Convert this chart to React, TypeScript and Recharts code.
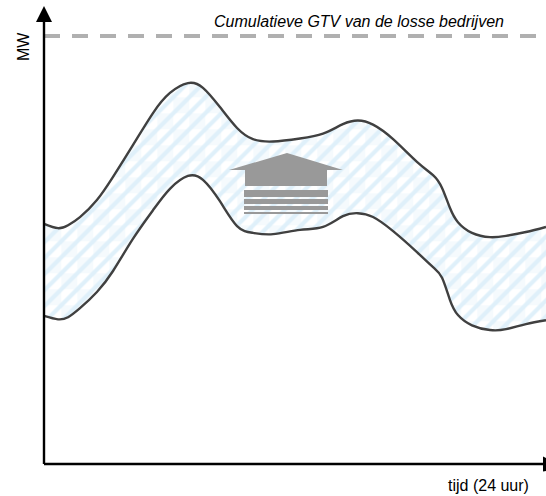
import { Area, ComposedChart, ReferenceLine, XAxis, YAxis } from "recharts";

// uren op de x-as, MW als percentage van de cumulatieve GTV
const HOURS = [0, 0.67, 1.15, 1.72, 2.53, 3.3, 4.25, 5.21, 6.02, 6.88, 7.6, 8.41, 9.23, 9.99, 10.95, 12.24, 13.34, 14.29, 15.01, 15.73, 16.69, 17.83, 18.6, 19.03, 19.41, 19.79, 20.46, 21.32, 22.09, 23.04, 24];
const UPPER = [56.1, 55.1, 55.8, 57.7, 61.7, 67.1, 74.5, 82, 86.7, 89, 87.9, 83.4, 78.5, 75.9, 75.35, 76.05, 77.2, 79.4, 80.25, 79.3, 75.9, 70.6, 67.5, 64.5, 59.8, 56.5, 54, 53, 53.3, 54.2, 55.4];
const LOWER = [34.6, 33.8, 34.3, 36.4, 40.2, 45.1, 52.6, 59.3, 64.3, 67.3, 66.4, 61.4, 55.6, 54, 53.7, 54.7, 55.4, 57.9, 58.6, 57.7, 54.4, 49.5, 46, 43.5, 38.3, 34.8, 32.4, 31.3, 31.5, 32.7, 33.6];
const CAPACITY = 100;

const data = HOURS.map((hour, i) => ({ hour, band: [LOWER[i], UPPER[i]] }));

const FONT = "'Liberation Sans', Arial, sans-serif";

// pijlpunten, huisje met streepjes en teksten liggen boven de grafiek
function Overlay() {
  return (
    <svg width={546} height={496} style={{ position: "absolute", left: 0, top: 0 }}>
      <polygon points="36,22 52,22 44,6" fill="#000" />
      <polygon points="543,456.5 546,458 546,471 543,471.5" fill="#000" />
      <polygon points="229,170 287,153 343,170 327,170 327,186 245,186 245,170" fill="#999" />
      <rect x={244} y={190} width={84} height={7} fill="#999" />
      <rect x={244} y={199} width={84} height={5} fill="#999" />
      <rect x={244} y={206} width={84} height={4} fill="#999" />
      <rect x={244} y={212} width={84} height={2} fill="#999" />
      <text x={214} y={27} fontFamily={FONT} fontStyle="italic" fontSize={16} fill="#000">
        Cumulatieve GTV van de losse bedrijven
      </text>
      <text x={448} y={491} fontFamily={FONT} fontSize={16} fill="#000">
        tijd (24 uur)
      </text>
      <text transform="translate(29,61) rotate(-90)" fontFamily={FONT} fontSize={16} fill="#000">
        MW
      </text>
    </svg>
  );
}

export default function App() {
  return (
    <div style={{ position: "absolute", left: 0, top: 0, width: 546, height: 496, background: "#fff" }}>
      <ComposedChart width={546} height={496} data={data} margin={{ top: 20, right: 0, bottom: 0, left: 0 }}>
        <defs>
          <pattern id="hatch" width="32" height="32" patternUnits="userSpaceOnUse" patternTransform="translate(45.3 1.3)">
            <rect x={0} y={0} width={16} height={16} fill="#f5fafd" />
            <rect x={16} y={16} width={16} height={16} fill="#f5fafd" />
            <path d="M-4 4 L4 -4 M-4 20 L20 -4 M-4 36 L36 -4 M12 36 L36 12 M28 36 L36 28" stroke="#dff0fa" strokeWidth={4.2} fill="none" />
          </pattern>
        </defs>
        <XAxis
          dataKey="hour"
          type="number"
          domain={[0, 24]}
          tick={false}
          height={32}
          axisLine={{ stroke: "#000", strokeWidth: 2.4 }}
          tickLine={false}
        />
        <YAxis
          type="number"
          domain={[0, 103.74]}
          tick={false}
          width={44}
          axisLine={{ stroke: "#000", strokeWidth: 2.4 }}
          tickLine={false}
        />
        <Area
          dataKey="band"
          type="natural"
          fill="url(#hatch)"
          fillOpacity={1}
          stroke="#404040"
          strokeWidth={2.4}
          dot={false}
          activeDot={false}
          isAnimationActive={false}
        />
        <ReferenceLine y={CAPACITY} stroke="#b0b0b0" strokeWidth={4} strokeDasharray="16 12" />
      </ComposedChart>
      <Overlay />
    </div>
  );
}
